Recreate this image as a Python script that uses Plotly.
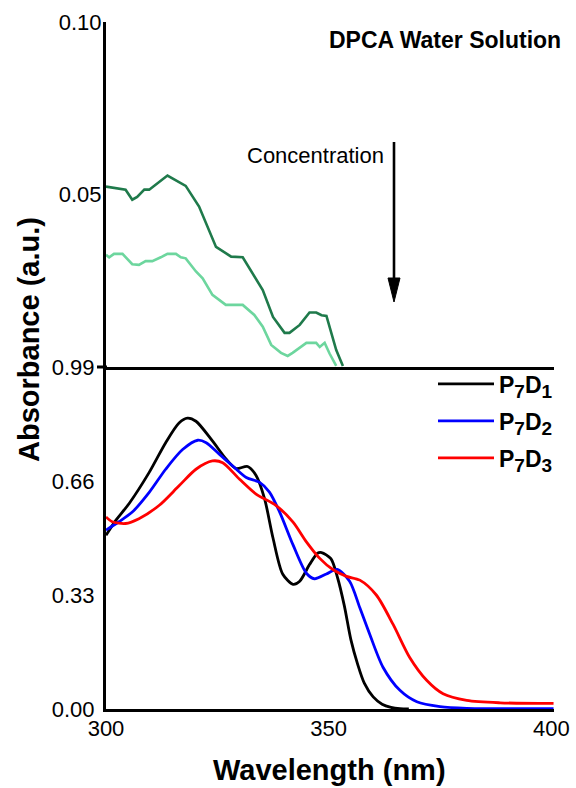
import plotly.graph_objects as go

# ---------------- data ----------------
# Upper panel: DPCA water solution, two concentrations
wl_dpca_high = [300.0, 304.4, 305.9, 307.0, 308.6, 309.7, 313.8, 315.7, 317.9, 320.9,
                324.7, 328.1, 330.7, 335.2, 337.5, 340.1, 341.2, 343.5, 345.7, 347.2,
                348.4, 349.5, 351.7, 353.2]
abs_dpca_high = [0.0523, 0.0514, 0.0485, 0.0493, 0.0514, 0.0514, 0.0555, 0.0542, 0.0525, 0.0465,
                 0.0348, 0.0320, 0.0318, 0.0223, 0.0145, 0.0099, 0.0099, 0.0122, 0.0158, 0.0158,
                 0.0150, 0.0148, 0.0049, 0.0003]

wl_dpca_low = [300.0, 300.7, 301.8, 303.7, 305.9, 307.4, 308.9, 310.4, 312.3, 313.8,
               315.7, 316.8, 317.9, 320.2, 321.7, 323.9, 326.9, 330.7, 333.3, 335.2,
               337.1, 339.3, 340.8, 341.9, 345.0, 347.2, 348.0, 349.1, 350.2, 351.7]
abs_dpca_low = [0.0325, 0.0318, 0.0328, 0.0328, 0.0298, 0.0296, 0.0307, 0.0307, 0.0318, 0.0328,
                0.0328, 0.0318, 0.0315, 0.0277, 0.0257, 0.0209, 0.0180, 0.0180, 0.0151, 0.0117,
                0.0064, 0.0041, 0.0032, 0.0041, 0.0070, 0.0070, 0.0058, 0.0070, 0.0039, 0.0003]

# Lower panel: P7D1, P7D2, P7D3
wl_p7d1 = [300.0, 302.2, 305.2, 309.7, 313.4, 316.4, 318.3, 320.2, 323.9, 327.0,
           329.2, 331.8, 333.7, 335.6, 337.5, 339.7, 342.0, 343.5, 345.7, 347.5,
           348.4, 350.5, 352.0, 353.5, 355.0, 356.5, 358.0, 360.0, 362.0, 364.0,
           366.0, 368.0]
abs_p7d1 = [0.503, 0.546, 0.595, 0.685, 0.771, 0.828, 0.842, 0.833, 0.776, 0.723,
            0.696, 0.702, 0.676, 0.609, 0.495, 0.390, 0.361, 0.370, 0.418, 0.451,
            0.453, 0.435, 0.380, 0.300, 0.200, 0.130, 0.075, 0.035, 0.014, 0.005,
            0.001, 0.0]

wl_p7d2 = [300.0, 302.9, 305.9, 309.7, 313.4, 317.2, 320.6, 322.5, 325.5, 328.4,
           331.5, 334.5, 336.7, 339.0, 342.0, 345.0, 346.8, 349.5, 351.9, 354.7,
           357.0, 359.2, 362.2, 366.0, 369.8, 375.0, 381.0, 390.0, 400.5]
abs_p7d2 = [0.518, 0.542, 0.570, 0.627, 0.694, 0.751, 0.778, 0.771, 0.737, 0.704,
            0.670, 0.656, 0.628, 0.570, 0.475, 0.393, 0.377, 0.391, 0.404, 0.370,
            0.293, 0.217, 0.121, 0.054, 0.021, 0.007, 0.002, 0.001, 0.001]

wl_p7d3 = [300.0, 301.4, 304.4, 307.4, 311.9, 316.4, 320.2, 323.9, 326.2, 330.0,
           333.7, 338.2, 342.0, 345.0, 348.0, 351.0, 354.0, 357.0, 360.7, 364.5,
           368.2, 372.0, 375.7, 381.0, 388.5, 400.5]
abs_p7d3 = [0.556, 0.542, 0.537, 0.551, 0.589, 0.646, 0.694, 0.718, 0.713, 0.665,
            0.622, 0.589, 0.541, 0.484, 0.436, 0.403, 0.384, 0.373, 0.330, 0.244,
            0.149, 0.083, 0.044, 0.025, 0.018, 0.016]

SUB = "<span style='font-size:19px'>{}</span>"
series_names = [f"<b>P<sub>{SUB.format(7)}</sub>D<sub>{SUB.format(1)}</sub></b>",
                f"<b>P<sub>{SUB.format(7)}</sub>D<sub>{SUB.format(2)}</sub></b>",
                f"<b>P<sub>{SUB.format(7)}</sub>D<sub>{SUB.format(3)}</sub></b>"]

lower_ticks = [0.0, 0.33, 0.66, 0.99]
upper_ticks = [0.05, 0.10]
x_ticks = [300, 350, 400]

# ---------------- layout helpers ----------------
W, H = 576, 788
L, R, T, B = 106, 22, 22, 79
PW, PH = W - L - R, H - T - B


def px(x):
    return (x - L) / PW


def py(y):
    return (H - B - y) / PH


split = py(367)
FONT = "Liberation Sans, Arial, sans-serif"

fig = go.Figure()

fig.add_trace(go.Scatter(x=wl_dpca_high, y=abs_dpca_high, xaxis="x2", yaxis="y2",
                         mode="lines", line=dict(color="#1f7a4b", width=2.6),
                         showlegend=False, name="DPCA high"))
fig.add_trace(go.Scatter(x=wl_dpca_low, y=abs_dpca_low, xaxis="x2", yaxis="y2",
                         mode="lines", line=dict(color="#6dd69e", width=2.6),
                         showlegend=False, name="DPCA low"))

legend_ids = ["legend", "legend2", "legend3"]
legend_y = [384, 421, 458]
for wl, ab, nm, col, lg in zip([wl_p7d1, wl_p7d2, wl_p7d3],
                               [abs_p7d1, abs_p7d2, abs_p7d3],
                               series_names,
                               ["#000000", "#0000ff", "#ff0000"],
                               legend_ids):
    fig.add_trace(go.Scatter(x=wl, y=ab, mode="lines", name=nm, legend=lg,
                             line=dict(color=col, width=2.8, shape="spline", smoothing=0.8)))

axis_common = dict(showgrid=False, zeroline=False, showline=True,
                   linecolor="black", linewidth=3)

legend_style = dict(xanchor="left", yanchor="middle", bgcolor="rgba(0,0,0,0)",
                    font=dict(size=23, family=FONT), borderwidth=0, itemwidth=56)

fig.update_layout(
    width=W, height=H,
    margin=dict(l=L, r=R, t=T, b=B, autoexpand=False),
    plot_bgcolor="white", paper_bgcolor="white",
    font=dict(family=FONT, color="black", size=22),
    xaxis=dict(range=[300, 400.6], domain=[0, 1], anchor="y",
               tickvals=x_ticks, ticktext=[str(v) for v in x_ticks],
               ticks="", ticklabelstandoff=-2, **axis_common),
    xaxis2=dict(range=[300, 400.6], domain=[0, 1], anchor="y2",
                showticklabels=False, ticks="", **axis_common),
    yaxis=dict(range=[0, 0.99], domain=[0, split], anchor="x",
               tickvals=lower_ticks, ticktext=[f"{v:.2f}" for v in lower_ticks],
               ticks="", ticklabelstandoff=4, **axis_common),
    yaxis2=dict(range=[0, 0.10], domain=[split, 1], anchor="x2",
                tickvals=upper_ticks, ticktext=[f"{v:.2f}" for v in upper_ticks],
                ticks="", ticklabelstandoff=-3, **axis_common),
    legend=dict(x=px(433), y=py(legend_y[0]), **legend_style),
    legend2=dict(x=px(433), y=py(legend_y[1]), **legend_style),
    legend3=dict(x=px(433), y=py(legend_y[2]), **legend_style),
    showlegend=True,
)

annotations = [
    dict(text="<b>Absorbance (a.u.)</b>", x=px(29), y=py(340), xref="paper", yref="paper",
         textangle=-90, showarrow=False, font=dict(size=29), xanchor="center", yanchor="middle"),
    dict(text="<b>Wavelength (nm)</b>", x=px(329), y=py(770), xref="paper", yref="paper",
         showarrow=False, font=dict(size=29), xanchor="center", yanchor="middle"),
    dict(text="<b>DPCA Water Solution</b>", x=px(563), y=py(40), xref="paper", yref="paper",
         showarrow=False, font=dict(size=23), xanchor="right", yanchor="middle"),
    dict(text="Concentration", x=px(315), y=py(156), xref="paper", yref="paper",
         showarrow=False, font=dict(size=22), xanchor="center", yanchor="middle"),
]
fig.update_layout(annotations=annotations)

shapes = [
    # arrow shaft
    dict(type="line", xref="paper", yref="paper", x0=px(394), x1=px(394),
         y0=py(142), y1=py(282), line=dict(color="black", width=2.6)),
    # arrow head
    dict(type="path", xref="paper", yref="paper",
         path=f"M {px(388)} {py(278)} L {px(400)} {py(278)} L {px(394)} {py(302)} Z",
         fillcolor="black", line=dict(color="black", width=1)),
    # small tick at panel boundary
    dict(type="line", xref="paper", yref="paper", x0=px(97), x1=px(107),
         y0=split, y1=split, line=dict(color="black", width=3)),
]
fig.update_layout(shapes=shapes)

fig.write_html("out.html", config={"displayModeBar": False},
               post_script="document.body.style.margin='0';document.body.style.overflow='hidden';")
